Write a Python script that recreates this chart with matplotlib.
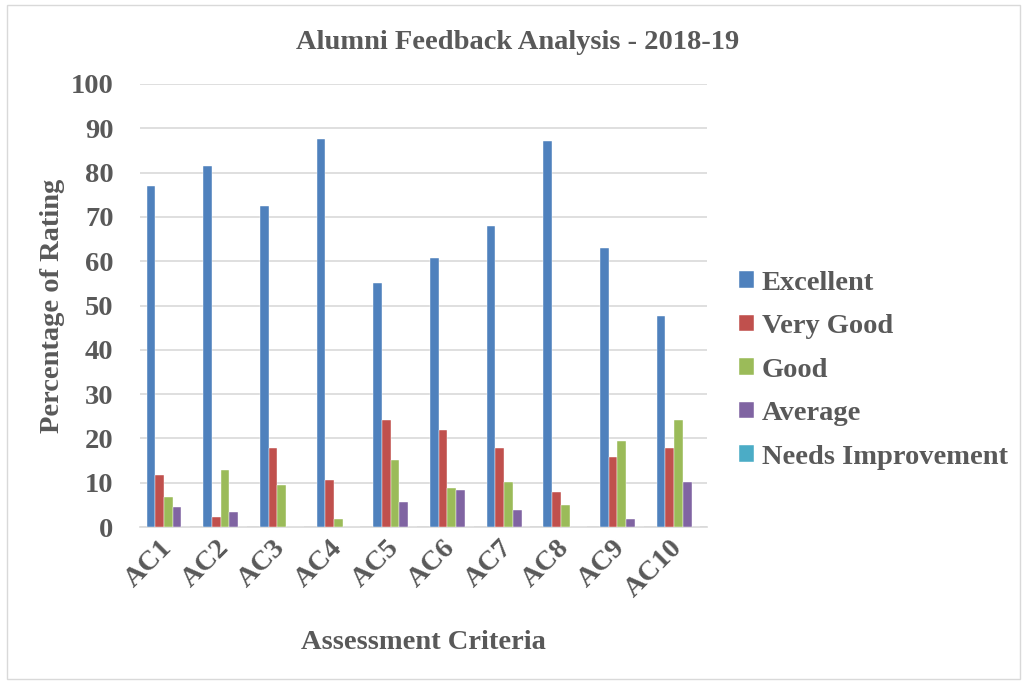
import numpy as np
import matplotlib
matplotlib.use("Agg")
import matplotlib.pyplot as plt
from matplotlib.patches import Rectangle

criteria = ["AC1", "AC2", "AC3", "AC4", "AC5", "AC6", "AC7", "AC8", "AC9", "AC10"]
excellent = [77.0, 81.4, 72.4, 87.6, 55.0, 60.7, 68.0, 87.1, 62.9, 47.7]
very_good = [11.7, 2.2, 17.9, 10.6, 24.1, 22.0, 17.9, 7.8, 15.7, 17.9]
good = [6.7, 12.9, 9.5, 1.7, 15.2, 8.9, 10.1, 5.0, 19.5, 24.1]
average = [4.5, 3.3, 0, 0, 5.6, 8.4, 3.9, 0, 1.7, 10.1]
needs_improvement = [0, 0, 0, 0, 0, 0, 0, 0, 0, 0]

series = [
    ("Excellent", excellent, "#4F81BD"),
    ("Very Good", very_good, "#C0504D"),
    ("Good", good, "#9BBB59"),
    ("Average", average, "#8064A2"),
    ("Needs Improvement", needs_improvement, "#4BACC6"),
]

plt.rcParams["font.family"] = ["Liberation Serif", "DejaVu Serif"]
plt.rcParams["font.weight"] = "bold"
txt = "#595959"
fs = 20.5

fig = plt.figure(figsize=(10.27, 6.84), dpi=100)
ax = fig.add_axes([0.1363, 0.2295, 0.552, 0.6477])

x = np.arange(len(criteria))
w = 1 / 6.5
for i, (name, vals, col) in enumerate(series):
    ax.bar(x + (i - 2) * w, vals, w, color=col, label=name,
           edgecolor="white", linewidth=0.3, zorder=3)

ax.set_xlim(-0.5, len(criteria) - 0.5)
ax.set_ylim(0, 100)
ax.set_yticks(range(0, 101, 10))
ax.yaxis.grid(True, color="#D9D9D9", linewidth=1.2, zorder=0)
for s in ["top", "right", "left"]:
    ax.spines[s].set_visible(False)
ax.spines["bottom"].set_color("#D9D9D9")
ax.spines["bottom"].set_linewidth(1.2)
ax.tick_params(axis="both", length=0, labelcolor=txt)
ax.tick_params(axis="y", labelsize=fs, pad=19)
for t in ax.get_yticklabels():
    t.set_fontweight("bold")

ax.set_xticks(x)
ax.set_xticklabels(criteria, rotation=45, ha="right", va="center",
                   rotation_mode="anchor", fontsize=fs, fontweight="bold")
ax.tick_params(axis="x", pad=12)

fig.text(0.504, 0.938, "Alumni Feedback Analysis - 2018-19", fontsize=fs,
         color=txt, fontweight="bold", ha="center", va="center")
ax.set_ylabel("Percentage of Rating", fontsize=fs, color=txt,
              fontweight="bold", labelpad=4.5)
ax.set_xlabel("Assessment Criteria", fontsize=fs, color=txt,
              fontweight="bold", labelpad=20)

leg = fig.legend(loc="center left", bbox_to_anchor=(0.695, 0.459), frameon=False,
                 prop={"size": fs, "weight": "bold"}, handlelength=0.53,
                 handleheight=0.53, handletextpad=0.25, labelspacing=0.65)
for t in leg.get_texts():
    t.set_color(txt)

fig.patches.append(Rectangle((0.007, 0.007), 0.986, 0.986, transform=fig.transFigure,
                             fill=False, edgecolor="#D9D9D9", linewidth=1))

fig.savefig("out.png", dpi=100)
